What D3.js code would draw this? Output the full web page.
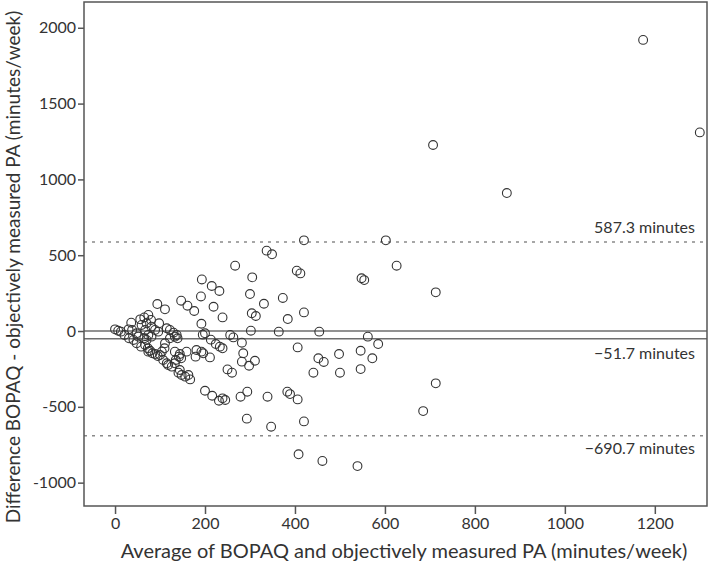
<!DOCTYPE html>
<html>
<head>
<meta charset="utf-8">
<script src="https://cdn.jsdelivr.net/npm/d3@7"></script>
<style>
  body { margin: 0; background: #fff; }
  text { font-family: Lato, "Open Sans", sans-serif; fill: #333; }
</style>
</head>
<body>
<div id="chart"></div>
<script>
// Bland-Altman data: average (x) and difference (y), minutes/week
const avgValues = [
  0, 7, 13, 21, 31, 41, 48, 58, 67, 73, 48, 52, 30, 38, 36, 56, 65, 74, 80, 70,
  59, 67, 81, 89, 96, 74, 81, 65, 70, 98, 94, 111, 115, 122, 130, 137, 111, 110, 74, 78,
  83, 89, 95, 100, 104, 107, 115, 118, 126, 133, 135, 147, 142, 133, 144, 159, 122, 133, 139, 144,
  148, 156, 167, 141, 163, 181, 179, 147, 161, 176, 200,
  420, 337, 349, 267, 305, 404, 412, 193, 215, 232, 300, 373, 191, 219, 331, 239, 304, 313, 384, 420,
  192, 302, 364, 454, 195, 213, 256, 263, 224, 233, 239, 282, 406, 192, 196, 211, 285, 282, 298, 311,
  452, 464, 250, 260, 441, 200, 216, 231, 239, 245, 279, 294, 339, 383, 389, 406, 293, 347, 420, 408, 461,
  602, 626, 548, 554, 713, 562, 585, 498, 546, 572, 500, 546, 713, 685, 539,
  707, 871, 1174, 1300
];
const diffValues = [
  11, 2, -4, -26, -48, -59, -81, -103, -92, -114, -15, -37, 11, 7, 55, 77, 90, 106, 73, 51,
  40, 7, 29, 7, -4, -26, -37, -48, -59, 51, 178, 143, 18, 7, -11, -26, -81, -114, -136, -130,
  -147, -152, -165, -158, -136, -191, -213, -224, -235, -213, -191, -180, -169, -136, -152, -136, -48, -37, -48, -257,
  -290, -301, -319, -275, -290, -125, -169, 200, 167, 132, -15,
  598, 530, 506, 431, 354, 398, 380, 340, 297, 264, 244, 218, 228, 160, 180, 90, 117, 99, 79, 123,
  48, 2, -4, -4, -24, -57, -26, -42, -86, -103, -114, -77, -108, -136, -147, -174, -147, -202, -229, -196,
  -180, -204, -253, -275, -275, -394, -427, -460, -444, -455, -433, -400, -433, -400, -416, -451, -578, -631, -596, -813, -857,
  598, 431, 348, 336, 255, -37, -86, -152, -130, -180, -275, -251, -345, -528, -891,
  1227, 910, 1920, 1310
];

const xTicks = [0, 200, 400, 600, 800, 1000, 1200];
const yTicks = [-1000, -500, 0, 500, 1000, 1500, 2000];

const meanDiff = -51.7;
const upperLoA = 587.3;
const lowerLoA = -690.7;

const width = 709, height = 569;
const plotLeft = 84, plotRight = 707, plotTop = 2, plotBottom = 506;

const svg = d3.select("#chart").append("svg")
  .attr("width", width)
  .attr("height", height);

const x = d3.scaleLinear().domain([-69, 1316]).range([plotLeft, plotRight]);
const y = d3.scaleLinear().domain([-1154, 2170]).range([plotBottom, plotTop]);

const gray = "#6e6e6e";

// reference lines
svg.append("line")
  .attr("x1", plotLeft).attr("x2", plotRight)
  .attr("y1", y(0)).attr("y2", y(0))
  .attr("stroke", gray).attr("stroke-width", 1.5);

svg.append("line")
  .attr("x1", plotLeft).attr("x2", plotRight)
  .attr("y1", y(meanDiff)).attr("y2", y(meanDiff))
  .attr("stroke", gray).attr("stroke-width", 1.5);

[upperLoA, lowerLoA].forEach(v => {
  svg.append("line")
    .attr("x1", plotLeft).attr("x2", plotRight)
    .attr("y1", y(v)).attr("y2", y(v))
    .attr("stroke", "#8a8a8a").attr("stroke-width", 1.5)
    .attr("stroke-dasharray", "3,5");
});

// points
const points = avgValues.map((a, i) => ({ a, d: diffValues[i] }));
svg.append("g")
  .selectAll("circle")
  .data(points)
  .join("circle")
  .attr("cx", p => x(p.a))
  .attr("cy", p => y(p.d))
  .attr("r", 4.4)
  .attr("fill", "none")
  .attr("stroke", "#333")
  .attr("stroke-width", 1.1);

// frame
svg.append("rect")
  .attr("x", plotLeft).attr("y", plotTop)
  .attr("width", plotRight - plotLeft).attr("height", plotBottom - plotTop)
  .attr("fill", "none")
  .attr("stroke", "#555")
  .attr("stroke-width", 1.5);

// axes
const xAxis = svg.append("g")
  .attr("transform", `translate(0,${plotBottom})`)
  .call(d3.axisBottom(x).tickValues(xTicks).tickFormat(d => String(d)).tickSize(8).tickPadding(4));
const yAxis = svg.append("g")
  .attr("transform", `translate(${plotLeft},0)`)
  .call(d3.axisLeft(y).tickValues(yTicks).tickFormat(d => String(d)).tickSize(6).tickPadding(2));

[xAxis, yAxis].forEach(g => {
  g.select(".domain").remove();
  g.selectAll(".tick line").attr("stroke", "#555").attr("stroke-width", 1.5);
  g.selectAll(".tick text").attr("font-size", 16).attr("fill", "#444")
    .style("font-family", "Lato, sans-serif");
});

// limit labels
const labels = [
  { v: upperLoA, text: "587.3 minutes", dy: -9 },
  { v: meanDiff, text: "\u221251.7 minutes", dy: 20 },
  { v: lowerLoA, text: "\u2212690.7 minutes", dy: 18 }
];
svg.append("g")
  .selectAll("text")
  .data(labels)
  .join("text")
  .attr("x", 695)
  .attr("y", d => y(d.v) + d.dy)
  .attr("text-anchor", "end")
  .attr("font-size", 16)
  .text(d => d.text);

// axis titles
svg.append("text")
  .attr("x", 404)
  .attr("y", 558)
  .attr("text-anchor", "middle")
  .attr("font-size", 20)
  .text("Average of BOPAQ and objectively measured PA (minutes/week)");

svg.append("text")
  .attr("transform", `translate(20,267) rotate(-90)`)
  .attr("text-anchor", "middle")
  .attr("font-size", 19)
  .text("Difference BOPAQ - objectively measured PA (minutes/week)");
</script>
</body>
</html>
